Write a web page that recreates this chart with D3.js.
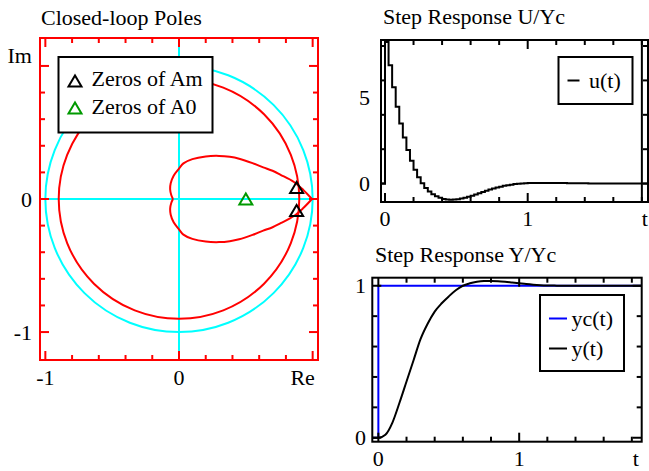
<!DOCTYPE html>
<html><head><meta charset="utf-8">
<script src="https://cdn.jsdelivr.net/npm/d3@7"></script>
<style>
html,body{margin:0;padding:0;background:#fff;}
svg text{font-family:'Liberation Serif','Tinos','Times New Roman','DejaVu Serif',serif;font-size:22px;fill:#000;}
</style></head>
<body>
<svg id="c" width="649" height="471"></svg>
<script>
// ---------------- data ----------------
// Closed-loop poles panel
const circleRadii = [1.0];          // cyan unit circle
const poleCircleRadii = [0.9];      // red locus circle
const heartUpperX = [0.995, 0.93, 0.86, 0.76, 0.70, 0.63, 0.55, 0.45, 0.38, 0.30, 0.20, 0.10, 0.033, 0.0, -0.04, -0.062, -0.066, -0.058, -0.045];
const heartUpperY = [0.0, 0.068, 0.128, 0.182, 0.212, 0.238, 0.27, 0.303, 0.317, 0.324, 0.32, 0.30, 0.268, 0.228, 0.175, 0.118, 0.07, 0.03, 0.0];
const heartLowerX = [0.995, 0.93, 0.86, 0.76, 0.70, 0.63, 0.55, 0.45, 0.38, 0.30, 0.20, 0.10, 0.033, 0.0, -0.04, -0.062, -0.066, -0.058, -0.045];
const heartLowerY = [0.0, -0.068, -0.128, -0.182, -0.212, -0.238, -0.27, -0.303, -0.317, -0.324, -0.32, -0.30, -0.268, -0.228, -0.175, -0.118, -0.07, -0.03, 0.0];
const zerosAmRe = [0.88, 0.88];
const zerosAmIm = [0.086, -0.086];
const zerosA0Re = [0.5];
const zerosA0Im = [0.0];
const poleXTicks = [-1, -0.8, -0.6, -0.4, -0.2, 0, 0.2, 0.4, 0.6, 0.8, 1];
const poleYTicks = [-1, -0.8, -0.6, -0.4, -0.2, 0, 0.2, 0.4, 0.6, 0.8, 1];
const poleMajor = [-1, 0, 1];
const poleXLabels = ["-1", "0", "Re"];
const poleYLabels = ["-1", "0", "Im"];

// Step response U/Yc (zero-order hold samples)
const uSampleTime = 0.025;
const uLeadT = -0.028;
const uValues = [8.23, 6.88, 5.60, 4.47, 3.50, 2.68, 1.96, 1.33, 0.80, 0.37,
  0.02, -0.25, -0.46, -0.62, -0.74, -0.83, -0.89, -0.93, -0.94, -0.93,
  -0.91, -0.87, -0.82, -0.76, -0.70, -0.63, -0.56, -0.49, -0.42, -0.35,
  -0.29, -0.23, -0.18, -0.13, -0.09, -0.06, -0.03, -0.01, 0.01, 0.02,
  0.03, 0.035, 0.04, 0.04, 0.04, 0.04, 0.04, 0.035, 0.035, 0.03,
  0.03, 0.025, 0.025, 0.02, 0.02, 0.015, 0.015, 0.01, 0.01, 0.01,
  0.01, 0.005, 0.005, 0.005, 0.005, 0, 0, 0, 0, 0,
  0, 0, 0, 0, 0];
const uTTicks = [0, 0.2, 0.4, 0.6, 0.8, 1, 1.2, 1.4, 1.6, 1.8];
const uTMajor = [0, 1];
const uYTicks = [0, 2, 4, 6, 8];
const uTLabels = ["0", "1", "t"];
const uYLabels = ["0", "5"];

// Step response Y/Yc
const yLeadT = -0.043;
const yTimes = [0, 0.05, 0.1, 0.15, 0.2, 0.25, 0.3, 0.35, 0.4, 0.45,
  0.5, 0.55, 0.6, 0.65, 0.7, 0.75, 0.8, 0.85, 0.9, 0.95,
  1.0, 1.05, 1.1, 1.15, 1.2, 1.25, 1.3, 1.35, 1.4, 1.45,
  1.5, 1.55, 1.6, 1.65, 1.7, 1.75, 1.8, 1.85, 1.9];
const yValues = [0, 0.02, 0.10, 0.23, 0.37, 0.51, 0.65, 0.75, 0.83, 0.885,
  0.93, 0.97, 1.0, 1.016, 1.026, 1.031, 1.032, 1.03, 1.026, 1.021,
  1.016, 1.011, 1.007, 1.004, 1.002, 1.001, 1, 1, 1, 1,
  1, 1, 1, 1, 1, 1, 1, 1, 1];
const ycTimes = [-0.043, 0, 1.9];
const ycValues = [0, 1, 1];
const yTTicks = [0, 0.2, 0.4, 0.6, 0.8, 1, 1.2, 1.4, 1.6, 1.8];
const yTMajor = [0, 1];
const yYTicks = [0, 0.2, 0.4, 0.6, 0.8, 1];
const yYMajor = [0, 1];
const yTLabels = ["0", "1", "t"];
const yYLabels = ["0", "1"];

// ---------------- drawing ----------------
const svg = d3.select("#c");
const defs = svg.append("defs");

function frameTicks(g, x, y, xt, xMaj, yt, yMaj, color, opts) {
  opts = opts || {};
  const [x0, x1] = x.range(), [y0, y1] = y.range(); // y0 bottom, y1 top
  const len = (v, maj) => maj.some(m => Math.abs(m - v) < 1e-9) ? 9 : 5;
  xt.forEach(v => {
    const l = len(v, xMaj);
    g.append("line").attr("x1", x(v)).attr("x2", x(v)).attr("y1", y1).attr("y2", y1 + l)
      .attr("stroke", color).attr("stroke-width", 2);
    g.append("line").attr("x1", x(v)).attr("x2", x(v)).attr("y1", y0).attr("y2", y0 - l)
      .attr("stroke", color).attr("stroke-width", 2);
  });
  yt.forEach(v => {
    const l = len(v, yMaj);
    g.append("line").attr("x1", x0).attr("x2", x0 + l).attr("y1", y(v)).attr("y2", y(v))
      .attr("stroke", color).attr("stroke-width", 2);
    g.append("line").attr("x1", x1).attr("x2", x1 - l).attr("y1", y(v)).attr("y2", y(v))
      .attr("stroke", color).attr("stroke-width", 2);
  });
  g.append("rect").attr("x", x0).attr("y", y1).attr("width", x1 - x0).attr("height", y0 - y1)
    .attr("fill", "none").attr("stroke", color).attr("stroke-width", 2);
}

function clip(id, x, y) {
  const [x0, x1] = x.range(), [y0, y1] = y.range();
  defs.append("clipPath").attr("id", id).append("rect")
    .attr("x", x0).attr("y", y1).attr("width", x1 - x0).attr("height", y0 - y1);
}

// ===== Panel 1: Closed-loop poles =====
{
  const x = d3.scaleLinear().domain([-1.04, 1.04]).range([40, 318]);
  const y = d3.scaleLinear().domain([-1.21, 1.21]).range([360, 38]);
  const g = svg.append("g");
  clip("clipP", x, y);
  const pg = g.append("g").attr("clip-path", "url(#clipP)");

  pg.append("line").attr("x1", x(0)).attr("x2", x(0)).attr("y1", y.range()[0]).attr("y2", y.range()[1])
    .attr("stroke", "#00ffff").attr("stroke-width", 2);
  pg.append("line").attr("x1", x.range()[0]).attr("x2", x.range()[1]).attr("y1", y(0)).attr("y2", y(0))
    .attr("stroke", "#00ffff").attr("stroke-width", 2);
  circleRadii.forEach(r => {
    pg.append("ellipse").attr("cx", x(0)).attr("cy", y(0))
      .attr("rx", x(r) - x(0)).attr("ry", y(0) - y(r))
      .attr("fill", "none").attr("stroke", "#00ffff").attr("stroke-width", 2);
  });
  poleCircleRadii.forEach(r => {
    pg.append("ellipse").attr("cx", x(0)).attr("cy", y(0))
      .attr("rx", x(r) - x(0)).attr("ry", y(0) - y(r))
      .attr("fill", "none").attr("stroke", "#ff0000").attr("stroke-width", 2);
  });
  const line = d3.line().x(d => x(d[0])).y(d => y(d[1])).curve(d3.curveCatmullRom.alpha(0.5));
  pg.append("path").attr("d", line(heartUpperX.map((v, i) => [v, heartUpperY[i]])))
    .attr("fill", "none").attr("stroke", "#ff0000").attr("stroke-width", 2);
  pg.append("path").attr("d", line(heartLowerX.map((v, i) => [v, heartLowerY[i]])))
    .attr("fill", "none").attr("stroke", "#ff0000").attr("stroke-width", 2);

  const tri = (cx, cy) => `M${cx - 6.5},${cy + 5.5}L${cx + 6.5},${cy + 5.5}L${cx},${cy - 5.5}Z`;
  zerosAmRe.forEach((v, i) => {
    pg.append("path").attr("d", tri(x(v), y(zerosAmIm[i]))).attr("fill", "none")
      .attr("stroke", "#000").attr("stroke-width", 2);
  });
  zerosA0Re.forEach((v, i) => {
    pg.append("path").attr("d", tri(x(v), y(zerosA0Im[i]))).attr("fill", "none")
      .attr("stroke", "#009900").attr("stroke-width", 2);
  });

  frameTicks(g, x, y, poleXTicks, poleMajor, poleYTicks, poleMajor, "#ff0000");

  const xl = [-1, 0, 1];
  const xOff = [0, 0, -10];
  xl.forEach((v, i) => g.append("text").attr("x", x(v) + xOff[i]).attr("y", 385)
    .attr("text-anchor", "middle").text(poleXLabels[i]));
  const yOff = [0, 0, -10];
  xl.forEach((v, i) => g.append("text").attr("x", 32).attr("y", y(v) + 7.5 + yOff[i])
    .attr("text-anchor", "end").text(poleYLabels[i]));
  g.append("text").attr("x", 41).attr("y", 25).text("Closed-loop Poles");

  const lg = g.append("g");
  lg.append("rect").attr("x", 58.5).attr("y", 57).attr("width", 154).attr("height", 75.5)
    .attr("fill", "#fff").attr("stroke", "#000").attr("stroke-width", 2);
  lg.append("path").attr("d", tri(75, 81)).attr("fill", "none").attr("stroke", "#000").attr("stroke-width", 2);
  lg.append("path").attr("d", tri(75, 108)).attr("fill", "none").attr("stroke", "#009900").attr("stroke-width", 2);
  lg.append("text").attr("x", 91.5).attr("y", 86).text("Zeros of Am");
  lg.append("text").attr("x", 91.5).attr("y", 113.5).text("Zeros of A0");
}

// ===== Panel 2: Step response U/Yc =====
{
  const x = d3.scaleLinear().domain([-0.028, 1.843]).range([381, 648]);
  const y = d3.scaleLinear().domain([-1.07, 8.35]).range([202, 40]);
  const g = svg.append("g");
  clip("clipU", x, y);
  const pts = [[uLeadT, 0]].concat(uValues.map((v, k) => [k * uSampleTime, v]));
  const line = d3.line().x(d => x(d[0])).y(d => y(d[1])).curve(d3.curveStepAfter);
  g.append("g").attr("clip-path", "url(#clipU)").append("path").attr("d", line(pts))
    .attr("fill", "none").attr("stroke", "#000").attr("stroke-width", 2);

  frameTicks(g, x, y, uTTicks, uTMajor, uYTicks, [], "#000");
  g.append("line").attr("x1", x(1.8)).attr("x2", x(1.8)).attr("y1", y.range()[1]).attr("y2", y.range()[0])
    .attr("stroke", "#000").attr("stroke-width", 2);

  const tv = [0, 1, 1.8], tOff = [0, 0, 3];
  tv.forEach((v, i) => g.append("text").attr("x", x(v) + tOff[i]).attr("y", 226)
    .attr("text-anchor", "middle").text(uTLabels[i]));
  [0, 5].forEach((v, i) => g.append("text").attr("x", 370).attr("y", y(v) + 7.5)
    .attr("text-anchor", "end").text(uYLabels[i]));
  g.append("text").attr("x", 383).attr("y", 24).text("Step Response U/Yc");

  const lg = g.append("g");
  lg.append("rect").attr("x", 558.5).attr("y", 57).attr("width", 74).attr("height", 47)
    .attr("fill", "#fff").attr("stroke", "#000").attr("stroke-width", 2);
  lg.append("line").attr("x1", 567.5).attr("x2", 579.5).attr("y1", 80.5).attr("y2", 80.5)
    .attr("stroke", "#000").attr("stroke-width", 2);
  lg.append("text").attr("x", 589).attr("y", 87.5).text("u(t)");
}

// ===== Panel 3: Step response Y/Yc =====
{
  const x = d3.scaleLinear().domain([-0.043, 1.87]).range([372.3, 641.7]);
  const y = d3.scaleLinear().domain([-0.026, 1.053]).range([441.7, 277.7]);
  const g = svg.append("g");
  clip("clipY", x, y);
  const pg = g.append("g").attr("clip-path", "url(#clipY)");
  const stepLine = d3.line().x(d => x(d[0])).y(d => y(d[1])).curve(d3.curveStepAfter);
  pg.append("path").attr("d", stepLine(ycTimes.map((t, i) => [t, ycValues[i]])))
    .attr("fill", "none").attr("stroke", "#0000ff").attr("stroke-width", 2);
  const smooth = d3.line().x(d => x(d[0])).y(d => y(d[1])).curve(d3.curveMonotoneX);
  const pts = [[yLeadT, 0]].concat(yTimes.map((t, i) => [t, yValues[i]]));
  pg.append("path").attr("d", smooth(pts))
    .attr("fill", "none").attr("stroke", "#000").attr("stroke-width", 2);

  frameTicks(g, x, y, yTTicks, yTMajor, yYTicks, yYMajor, "#000");

  const tv = [0, 1, 1.8], tOff = [0, 0, 4];
  tv.forEach((v, i) => g.append("text").attr("x", x(v) + tOff[i]).attr("y", 466)
    .attr("text-anchor", "middle").text(yTLabels[i]));
  [0, 1].forEach((v, i) => g.append("text").attr("x", 366).attr("y", y(v) + 7.5)
    .attr("text-anchor", "end").text(yYLabels[i]));
  g.append("text").attr("x", 375).attr("y", 261.5).text("Step Response Y/Yc");

  const lg = g.append("g");
  lg.append("rect").attr("x", 540).attr("y", 295).attr("width", 84).attr("height", 76)
    .attr("fill", "#fff").attr("stroke", "#000").attr("stroke-width", 2);
  lg.append("line").attr("x1", 549).attr("x2", 567).attr("y1", 318.5).attr("y2", 318.5)
    .attr("stroke", "#0000ff").attr("stroke-width", 2);
  lg.append("text").attr("x", 571.5).attr("y", 325.5).text("yc(t)");
  lg.append("line").attr("x1", 549).attr("x2", 567).attr("y1", 348.5).attr("y2", 348.5)
    .attr("stroke", "#000").attr("stroke-width", 2);
  lg.append("text").attr("x", 571.5).attr("y", 355.5).text("y(t)");
}
</script>
</body></html>
